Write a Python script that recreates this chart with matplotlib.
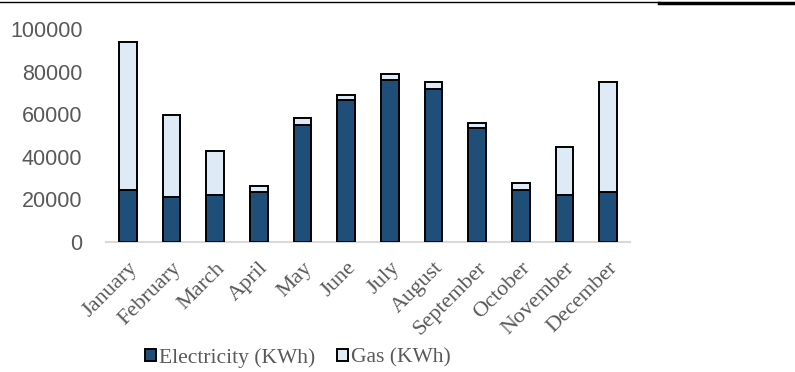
import matplotlib
matplotlib.use("Agg")
import matplotlib.pyplot as plt
from matplotlib.lines import Line2D
import numpy as np

months = ["January", "February", "March", "April", "May", "June", "July",
          "August", "September", "October", "November", "December"]
electricity = [24300, 21000, 22200, 23300, 55000, 66700, 76100, 72000, 53600, 24400, 22300, 23300]
gas = [69500, 38600, 20300, 3000, 3200, 2500, 2800, 3200, 2500, 3100, 22200, 51900]
yticks = [0, 20000, 40000, 60000, 80000, 100000]

ELEC_COLOR = "#1F4E79"
GAS_COLOR = "#DEEBF7"
TEXT_COLOR = "#595959"

fig = plt.figure(figsize=(7.95, 3.72), dpi=100)
ax = fig.add_axes([106 / 795, 1 - 242 / 372, 524 / 795, 213 / 372])

x = np.arange(len(months))
width = 0.41
ax.bar(x, electricity, width, color=ELEC_COLOR, edgecolor="black", linewidth=1.4,
       label="Electricity (KWh)", zorder=3)
ax.bar(x, gas, width, bottom=electricity, color=GAS_COLOR, edgecolor="black",
       linewidth=1.4, label="Gas (KWh)", zorder=3)

ax.set_xlim(-0.5, len(months) - 0.5)
ax.set_ylim(0, 100000)
ax.set_yticks(yticks)
ax.set_yticklabels([str(v) for v in yticks], fontsize=15.5, color=TEXT_COLOR,
                   family="Liberation Sans")
ax.set_xticks(x)
ax.set_xticklabels(months, rotation=45, ha="right", rotation_mode="anchor",
                   fontsize=16, color=TEXT_COLOR, family="Liberation Serif")
ax.tick_params(axis="y", length=0, pad=17)
ax.tick_params(axis="x", length=0, pad=12)

for side in ("left", "right", "top"):
    ax.spines[side].set_visible(False)
ax.spines["bottom"].set_color("#D9D9D9")
ax.spines["bottom"].set_linewidth(1.5)

leg = fig.legend(loc="center", bbox_to_anchor=(298 / 795, 1 - 358 / 372), ncol=2,
                 frameon=False, prop={"family": "Liberation Serif", "size": 15.5},
                 handlelength=0.5, handleheight=0.5, handletextpad=0.15, columnspacing=1.0)
for t in leg.get_texts():
    t.set_color(TEXT_COLOR)

# rules across the top of the page
fig.add_artist(Line2D([0, 660 / 795], [1 - 2 / 372] * 2, color="black", linewidth=1.0))
fig.add_artist(Line2D([659 / 795, 1], [1 - 3 / 372] * 2, color="black", linewidth=2.5))

fig.savefig("out.png", dpi=100)
